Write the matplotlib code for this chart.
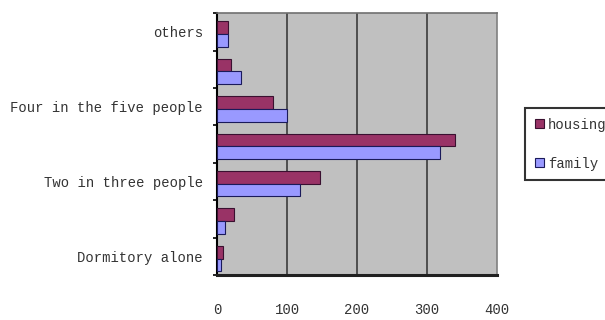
import numpy as np
import matplotlib
matplotlib.use("Agg")
import matplotlib.pyplot as plt

# categories from bottom to top, every other one has no label in the original
categories = ["Dormitory alone", "", "Two in three people", "",
              "Four in the five people", "", "others"]
housing = [9, 24, 147, 340, 80, 20, 15]
family = [6, 12, 118, 318, 100, 34, 15]
x_ticks = [0, 100, 200, 300, 400]

HOUSING_COLOR = "#993366"
FAMILY_COLOR = "#9999FF"
BG_COLOR = "#C0C0C0"

plt.rcParams['font.family'] = ['Liberation Mono', 'DejaVu Sans Mono']

fig = plt.figure(figsize=(6.05, 3.2), dpi=100)
ax = fig.add_axes([0.3587, 0.1406, 0.4628, 0.8184])
ax.set_facecolor(BG_COLOR)

y = np.arange(len(categories))
h = 0.34
ax.barh(y + h / 2 - 0.06, housing, height=h, color=HOUSING_COLOR,
        edgecolor="#3a1030", linewidth=0.8, label="housing", zorder=3)
ax.barh(y - h / 2 - 0.06, family, height=h, color=FAMILY_COLOR,
        edgecolor="#1a1a5a", linewidth=0.8, label="family", zorder=3)

# vertical grid lines
for v in x_ticks[1:-1]:
    ax.axvline(v, color="#303030", linewidth=1.1, zorder=1)

ax.set_xlim(0, 400)
ax.set_ylim(-0.5, len(categories) - 0.5)

ax.set_xticks(x_ticks)
ax.set_xticklabels([str(t) for t in x_ticks], fontsize=10, color="#333333")
ax.tick_params(axis='x', length=0, pad=20)

ax.set_yticks(y)
ax.set_yticklabels(categories, fontsize=10, color="#333333")
ax.set_yticks(np.arange(len(categories) + 1) - 0.5, minor=True)
ax.tick_params(axis='y', which='major', length=0, pad=10)
ax.tick_params(axis='y', which='minor', length=3, width=1.2, color="black")

ax.spines['left'].set_color("black")
ax.spines['left'].set_linewidth(1.5)
ax.spines['bottom'].set_color("#202020")
ax.spines['bottom'].set_linewidth(2.2)
ax.spines['top'].set_color("#707070")
ax.spines['top'].set_linewidth(1.2)
ax.spines['right'].set_color("#808080")
ax.spines['right'].set_linewidth(1.2)

leg = fig.legend(loc="upper left", bbox_to_anchor=(525 / 605, 1 - 108 / 320),
                 fontsize=10, frameon=True, fancybox=False,
                 handlelength=0.65, handleheight=0.65, handletextpad=0.3,
                 labelspacing=1.8, borderpad=0.7, borderaxespad=0,
                 labelcolor="#333333")
leg.get_frame().set_edgecolor("black")
leg.get_frame().set_linewidth(1.5)

fig.savefig("out.png", dpi=100)
